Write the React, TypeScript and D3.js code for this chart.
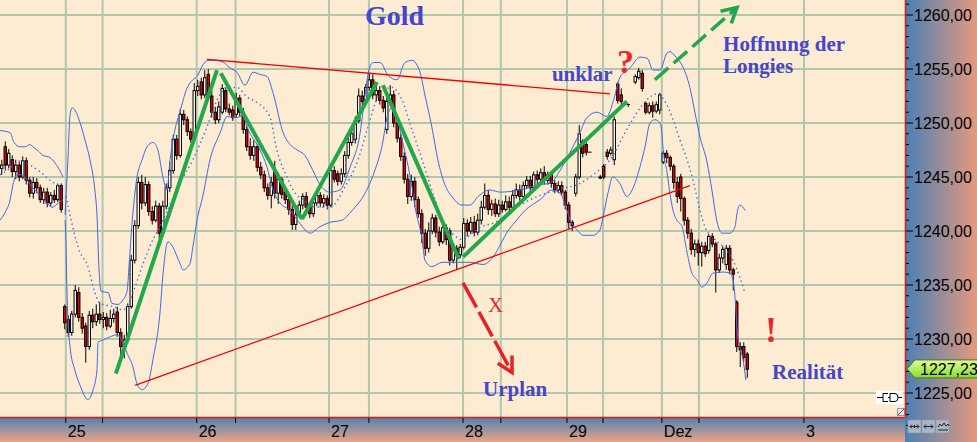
import React from 'react';
import * as d3 from 'd3';

type OHLC = [number, number, number, number] | null;
type Pt = [number, number];

// ---- candles (open, high, low, close), one per bar slot; null = no trading
const candles: OHLC[] = [
  [1245.8,1246.6,1245.2,1246.1],[1247.8,1248.3,1245.6,1246.1],[1246.1,1247.6,1245.8,1247.2],[1246.6,1247.0,1245.0,1245.5],
  [1245.5,1246.6,1244.8,1246.1],[1246.1,1246.4,1244.6,1245.0],[1245.0,1246.9,1244.8,1246.5],[1246.5,1246.8,1244.3,1244.7],
  [1244.7,1245.0,1243.1,1243.5],[1243.5,1245.0,1243.0,1244.5],[1244.5,1244.9,1243.5,1244.0],[1244.0,1244.3,1242.6,1242.9],
  [1242.9,1244.0,1242.5,1243.6],[1243.6,1244.0,1242.2,1242.6],[1242.6,1243.6,1242.3,1243.3],[1243.3,1243.8,1242.6,1242.9],
  [1242.9,1244.4,1242.7,1244.2],[1244.2,1244.4,1241.7,1242.0],
  [1233.0,1233.2,1230.9,1231.5],[1231.8,1232.2,1230.2,1230.6],[1230.6,1232.6,1230.3,1232.3],[1232.3,1235.0,1232.0,1234.5],
  [1234.3,1234.8,1231.6,1232.0],[1232.0,1232.4,1230.5,1231.0],[1231.2,1231.5,1227.8,1229.3],[1229.3,1232.6,1229.0,1232.2],
  [1232.2,1232.8,1231.0,1231.6],[1231.6,1233.2,1231.2,1232.3],[1232.3,1233.4,1231.4,1231.8],[1231.8,1232.5,1231.0,1232.0],
  [1232.0,1232.4,1230.8,1231.2],[1231.2,1232.7,1231.0,1231.9],[1231.9,1232.8,1231.5,1232.3],[1232.5,1233.0,1230.2,1230.6],
  [1230.6,1231.0,1228.5,1229.3],[1229.3,1230.4,1228.2,1229.9],[1229.9,1233.3,1229.6,1233.0],[1233.0,1237.8,1232.8,1237.3],
  [1237.3,1241.0,1237.0,1240.5],[1240.5,1245.0,1240.2,1244.5],[1244.5,1245.2,1242.0,1242.6],[1242.6,1245.0,1242.3,1244.3],
  [1244.3,1244.6,1241.4,1241.8],[1241.8,1242.3,1240.6,1241.0],[1241.0,1242.8,1240.8,1242.3],[1242.3,1242.6,1239.2,1239.8],
  [1239.8,1242.8,1239.5,1242.3],[1242.3,1244.4,1242.0,1244.0],[1244.0,1246.4,1243.6,1245.6],[1245.6,1248.9,1245.3,1248.5],
  [1248.5,1248.9,1246.6,1247.0],[1247.0,1251.3,1246.8,1250.8],[1250.8,1251.2,1249.8,1250.3],[1250.3,1250.6,1248.8,1249.2],
  [1249.2,1249.5,1248.2,1248.5],[1248.5,1253.7,1248.3,1253.0],[1253.0,1254.0,1252.5,1253.4],[1253.8,1254.2,1252.2,1252.6],
  [1252.6,1254.9,1252.3,1254.2],[1254.5,1255.0,1252.2,1252.5],[1252.5,1253.0,1250.5,1251.0],[1251.0,1251.5,1249.9,1250.3],
  [1250.3,1252.0,1250.0,1251.5],[1251.0,1253.6,1250.8,1253.2],[1253.0,1253.3,1251.0,1251.3],[1251.3,1251.8,1250.7,1251.0],
  [1251.2,1251.6,1250.2,1250.5],[1250.8,1252.8,1250.5,1252.3],[1252.3,1252.6,1250.6,1251.0],[1251.0,1251.4,1249.0,1249.4],
  [1249.4,1249.8,1247.4,1247.8],[1247.8,1248.6,1246.6,1247.0],[1247.0,1248.4,1246.5,1247.8],[1247.8,1248.0,1245.5,1245.9],
  [1245.9,1246.4,1244.8,1245.2],[1245.2,1245.6,1243.6,1244.0],[1244.0,1244.4,1242.9,1243.3],[1243.3,1245.0,1242.1,1244.5],
  [1245.6,1246.5,1243.0,1243.5],[1243.5,1245.4,1242.5,1244.8],[1244.8,1245.0,1243.0,1243.4],[1243.6,1244.0,1242.5,1242.9],
  [1242.9,1243.3,1241.5,1242.0],[1242.0,1242.4,1240.1,1240.6],[1240.6,1242.0,1240.1,1241.5],[1241.5,1242.8,1241.2,1242.4],
  [1242.4,1243.5,1242.0,1243.2],[1243.2,1243.6,1241.8,1242.2],[1242.2,1242.5,1241.2,1241.6],[1241.6,1243.0,1241.3,1242.6],
  [1242.6,1243.8,1242.3,1243.3],[1243.3,1243.6,1242.2,1242.6],[1242.6,1243.4,1242.2,1243.0],[1243.0,1243.3,1242.0,1242.4],
  [1242.4,1246.0,1242.2,1245.6],[1245.6,1246.0,1244.5,1244.8],[1245.3,1245.6,1244.2,1244.6],[1244.6,1245.8,1244.3,1245.3],
  [1245.3,1247.4,1245.0,1247.0],[1247.0,1248.7,1246.7,1248.2],[1248.2,1249.6,1247.9,1249.0],[1248.5,1250.6,1248.1,1250.2],
  [1250.2,1253.2,1250.0,1252.5],[1252.5,1253.0,1251.6,1252.0],[1252.0,1253.6,1251.8,1253.3],[1253.3,1254.6,1253.0,1254.0],
  [1254.0,1254.5,1252.2,1252.6],[1252.6,1253.5,1252.0,1253.0],[1253.0,1253.4,1251.7,1252.1],[1252.1,1252.5,1251.0,1251.4],
  [1249.4,1252.4,1249.0,1252.0],[1252.0,1253.5,1251.6,1252.6],[1252.6,1253.0,1249.6,1250.0],[1250.0,1250.4,1248.2,1248.6],
  [1248.6,1249.0,1246.5,1246.9],[1246.9,1247.3,1244.4,1244.8],[1244.8,1245.3,1242.5,1243.2],[1243.2,1245.2,1242.8,1244.6],
  [1244.6,1245.0,1242.2,1242.9],[1242.9,1243.2,1241.2,1241.6],[1241.6,1242.0,1238.9,1239.8],[1239.8,1240.2,1237.7,1238.4],
  [1238.4,1240.8,1238.0,1240.0],[1240.0,1241.6,1239.7,1241.2],[1241.2,1241.5,1239.4,1239.9],[1239.9,1240.4,1238.6,1239.0],
  [1239.0,1240.8,1238.8,1240.3],[1240.3,1240.6,1238.7,1239.2],[1240.0,1240.3,1236.8,1237.3],[1237.3,1238.8,1237.0,1238.4],
  [1238.4,1238.7,1236.4,1237.8],[1237.8,1238.8,1237.5,1238.5],[1238.5,1241.2,1238.3,1240.7],[1240.7,1241.1,1239.5,1240.0],
  [1240.0,1241.3,1239.7,1240.8],[1240.8,1241.4,1239.5,1239.9],[1239.9,1241.6,1239.6,1241.0],[1241.0,1242.8,1240.6,1242.2],
  [1242.2,1244.4,1242.0,1243.3],[1243.3,1243.8,1241.5,1242.0],[1242.0,1242.9,1241.4,1242.5],[1242.5,1243.0,1241.3,1241.6],
  [1241.6,1242.9,1241.3,1242.4],[1242.4,1242.8,1241.7,1242.0],[1242.0,1243.3,1241.8,1242.7],[1242.7,1243.2,1241.8,1242.2],
  [1242.2,1243.8,1241.9,1243.3],[1243.3,1244.4,1243.0,1243.8],[1243.8,1244.3,1242.8,1243.2],[1243.2,1244.6,1242.9,1244.2],
  [1244.2,1245.1,1243.9,1244.7],[1244.7,1245.1,1243.6,1244.0],[1244.0,1245.5,1243.8,1245.2],[1245.2,1245.6,1244.3,1244.8],
  [1244.8,1245.8,1244.5,1245.4],[1245.4,1246.0,1244.3,1244.7],[1244.7,1245.5,1244.3,1245.2],[1245.2,1245.5,1244.0,1244.4],
  [1244.4,1244.7,1243.5,1243.8],[1243.8,1244.6,1243.5,1244.2],[1244.2,1244.6,1243.3,1243.6],[1243.6,1243.8,1242.0,1242.4],
  [1242.4,1242.7,1240.2,1240.8],[1240.8,1241.0,1240.0,1240.5],[1243.5,1245.3,1243.2,1245.0],[1245.0,1249.8,1244.8,1249.0],
  [1248.3,1248.5,1246.8,1247.2],[1248.0,1248.2,1247.0,1247.3],[1247.3,1247.3,1247.3,1247.3],null,
  null,[1245.0,1245.2,1244.8,1244.9],[1246.0,1246.2,1244.8,1245.0],[1247.3,1247.6,1246.6,1246.9],
  [1247.2,1247.8,1247.0,1247.5],[1246.6,1250.6,1246.1,1250.3],[1253.6,1253.8,1251.8,1252.1],[1252.6,1253.2,1251.5,1252.0],
  [1251.8,1252.0,1251.6,1251.8],[1251.7,1251.8,1251.5,1251.7],null,[1253.8,1254.5,1253.6,1254.3],
  [1254.2,1255.1,1254.0,1254.8],[1254.6,1254.9,1252.9,1253.2],[1251.8,1252.0,1250.8,1251.0],[1251.0,1251.9,1250.8,1251.6],
  [1251.6,1252.0,1250.5,1251.1],[1251.1,1252.0,1250.9,1251.7],[1251.2,1252.8,1250.8,1252.6],[1246.4,1247.4,1246.2,1247.2],
  [1247.2,1247.5,1246.3,1246.8],[1246.8,1247.0,1245.6,1246.0],[1246.0,1246.2,1243.9,1244.5],[1244.5,1245.0,1242.6,1243.2],
  [1245.0,1245.3,1241.8,1243.0],[1243.0,1243.2,1240.5,1241.0],[1241.0,1241.3,1239.3,1239.8],[1239.8,1240.2,1237.8,1238.3],
  [1238.3,1239.2,1237.6,1238.8],[1238.8,1239.2,1236.8,1238.0],[1238.0,1239.0,1236.7,1238.6],[1238.6,1239.0,1237.6,1237.9],
  [1238.2,1239.7,1237.9,1239.5],[1239.5,1239.8,1238.5,1238.8],[1238.8,1239.0,1234.3,1236.4],[1236.4,1237.9,1236.1,1237.5],
  [1237.5,1238.6,1237.0,1238.3],[1236.9,1238.7,1236.4,1238.4],[1238.4,1238.7,1236.0,1236.4],[1236.4,1236.6,1234.5,1236.0],
  [1233.4,1233.6,1228.8,1229.3],[1229.3,1229.7,1227.4,1229.0],[1229.3,1229.7,1227.9,1228.3],[1228.6,1228.8,1226.4,1227.2],
];

// ---- Bollinger bands: [bar position, price]
const upperA: Pt[] = [[0,1249.3],[2.9,1249.1],[4.0,1248.2],[5.7,1247.8],[7.1,1247.8],[8.6,1248.0],[9.4,1247.8],[10.6,1247.5],[12.3,1247.0],[14.3,1246.8],[15.7,1246.3],[17.1,1245.6],[18.0,1245.0]];
const upperB: Pt[] = [[18.6,1241.5],[19.4,1246.6],[20.0,1250.7],[20.6,1251.4],[21.4,1251.2],[22.9,1250.0],[24.3,1248.4],[25.7,1246.6],[27.1,1243.8],[27.7,1241.5],[28.3,1236.4],[28.9,1234.4],[30.9,1234.3],[32.0,1233.3],[33.7,1233.2],[35.1,1233.6],[36.3,1234.4],[36.9,1236.9],[37.7,1240.6],[39.1,1244.9],[40.6,1246.6],[42.0,1247.8],[43.7,1248.2],[45.1,1247.5],[46.6,1244.9],[47.7,1243.8],[48.6,1246.6],[50.0,1249.4],[51.4,1251.0],[53.4,1253.2],[55.1,1254.0],[56.3,1254.3],[58.0,1255.4],[59.4,1255.8],[61.4,1255.8],[63.4,1255.7],[65.7,1255.1],[67.7,1254.7],[70.0,1253.5],[72.3,1254.7],[74.3,1254.5],[76.3,1254.3],[78.0,1252.8],[80.9,1249.1],[82.9,1248.0],[84.9,1247.5],[87.1,1247.0],[89.4,1245.6],[91.4,1244.3],[94.3,1243.6],[97.1,1243.8],[100.0,1245.9],[102.9,1249.1],[104.3,1252.6],[105.4,1254.9],[106.6,1255.6],[108.6,1255.6],[110.9,1254.4],[113.4,1254.0],[115.7,1255.6],[117.7,1255.8],[120.0,1254.7],[121.4,1252.6],[123.4,1249.6],[125.1,1246.6],[127.1,1244.3],[129.1,1243.2],[132.0,1242.4],[134.3,1242.4],[136.6,1243.2],[140.0,1243.8],[142.9,1243.6],[148.6,1243.8],[154.3,1244.3],[157.1,1244.4],[160.0,1245.6],[163.7,1247.8],[165.7,1249.1],[167.7,1250.5],[170.6,1251.0],[173.4,1250.6],[175.1,1251.9],[177.1,1254.2],[180.0,1255.1],[182.9,1256.1],[184.9,1256.0],[186.6,1254.9],[188.6,1254.9],[190.6,1256.5],[191.4,1256.6],[193.4,1256.0],[195.1,1255.2],[197.1,1253.3],[198.6,1250.9],[200.0,1248.7],[202.0,1246.4],[203.4,1243.8],[204.9,1240.8],[206.3,1239.8],[208.6,1239.8],[210.0,1240.4],[210.6,1241.7],[211.4,1242.4],[212.9,1241.9]];
const lowerA: Pt[] = [[0,1241.0],[1.4,1241.7],[2.9,1242.9],[3.7,1244.3],[4.9,1245.2],[6.3,1245.2],[7.7,1244.7],[9.4,1244.0],[11.4,1243.3],[13.4,1242.6],[14.9,1242.2],[16.3,1242.5],[18.0,1242.9]];
const lowerB: Pt[] = [[18.6,1241.0],[18.9,1238.2],[19.1,1234.8],[20.0,1229.3],[21.4,1227.1],[22.9,1225.7],[25.1,1224.4],[26.6,1225.3],[27.7,1227.1],[28.0,1229.7],[29.4,1229.9],[31.4,1230.2],[33.7,1230.4],[35.1,1229.6],[36.3,1228.7],[38.0,1227.4],[39.1,1225.9],[40.6,1225.3],[42.3,1225.9],[43.7,1228.1],[45.7,1232.4],[46.6,1236.1],[48.0,1239.0],[49.4,1238.5],[51.4,1237.0],[52.3,1236.4],[54.3,1237.0],[55.1,1238.5],[56.3,1241.0],[58.0,1243.3],[60.0,1246.6],[62.9,1249.1],[64.9,1250.6],[67.7,1250.5],[69.4,1250.7],[70.6,1249.6],[74.3,1247.5],[76.3,1245.9],[78.0,1243.8],[80.0,1242.6],[82.9,1241.9],[85.7,1240.7],[88.6,1239.8],[91.4,1240.4],[94.3,1240.8],[97.7,1241.0],[100.6,1241.9],[104.3,1243.5],[107.1,1245.6],[109.1,1247.8],[110.9,1250.9],[112.3,1251.5],[114.9,1248.4],[117.7,1244.1],[118.6,1242.2],[120.6,1239.2],[121.4,1237.3],[123.4,1236.7],[126.3,1237.1],[130.0,1237.1],[134.3,1237.1],[138.0,1236.9],[140.9,1237.6],[143.4,1239.0],[144.9,1239.9],[147.1,1240.8],[150.0,1241.9],[154.3,1242.9],[157.7,1243.8],[160.0,1243.5],[162.0,1241.9],[162.9,1241.0],[164.9,1240.1],[166.6,1239.6],[169.4,1239.6],[171.4,1240.1],[172.3,1241.3],[173.7,1243.5],[175.1,1245.0],[177.1,1244.4],[179.1,1243.2],[180.9,1244.0],[182.9,1246.0],[184.3,1247.8],[185.7,1250.0],[187.1,1250.3],[188.6,1250.0],[189.1,1249.1],[189.4,1247.8],[190.6,1245.4],[191.4,1243.5],[192.3,1241.9],[193.4,1241.0],[194.9,1240.4],[196.3,1238.0],[197.7,1236.1],[199.1,1235.5],[200.6,1234.8],[202.0,1235.2],[203.7,1236.1],[206.6,1236.2],[208.6,1236.1],[209.4,1235.5],[210.0,1233.9],[210.6,1230.8],[211.4,1229.3],[212.3,1228.1],[213.1,1226.2]];
const middleA: Pt[] = [[0,1245.2],[2.9,1245.8],[5.7,1246.5],[8.6,1246.1],[11.4,1245.5],[14.3,1244.7],[18.0,1244.0]];
const middleB: Pt[] = [[18.9,1243.2],[20.6,1240.6],[22.9,1238.0],[24.9,1236.9],[27.1,1234.3],[28.6,1233.3],[32.3,1233.0],[35.1,1232.7],[36.3,1233.0],[38.0,1234.3],[40.9,1237.0],[43.7,1239.2],[45.7,1240.4],[47.7,1241.8],[51.4,1244.4],[55.1,1246.6],[59.1,1249.6],[62.0,1252.1],[64.9,1253.3],[67.7,1253.3],[70.6,1252.4],[73.4,1251.9],[77.1,1250.6],[79.1,1247.5],[82.0,1245.0],[83.7,1243.8],[86.6,1242.9],[90.6,1242.2],[94.3,1242.2],[98.6,1244.1],[102.3,1246.6],[105.1,1249.6],[108.0,1252.4],[112.0,1253.3],[114.9,1252.1],[117.7,1249.4],[120.6,1246.6],[124.3,1242.9],[127.1,1240.4],[129.1,1239.8],[132.0,1239.2],[134.9,1239.8],[137.1,1240.3],[141.4,1240.8],[148.6,1242.4],[154.3,1243.3],[160.0,1243.9],[165.7,1244.4],[170.6,1245.5],[174.3,1246.6],[179.1,1249.4],[182.9,1251.4],[185.7,1252.4],[187.7,1252.7],[189.4,1252.3],[192.3,1250.3],[194.3,1248.4],[196.3,1246.6],[198.0,1244.7],[200.0,1241.9],[201.4,1240.4],[204.3,1239.2],[207.1,1238.4],[209.4,1237.3],[211.4,1235.7],[212.9,1234.2]];

// ---- hand-drawn annotations: [bar position, price]
const trendTop: Pt[] = [[59.1, 1255.9], [174.3, 1252.7]];
const trendBottom: Pt[] = [[38.6, 1225.7], [197.1, 1244.2]];
const greenLegs: Pt[][] = [
  [[33.1, 1226.8], [62.0, 1254.9]],
  [[63.1, 1254.6], [86.3, 1241.1]],
  [[86.3, 1241.1], [107.7, 1253.8]],
  [[109.4, 1253.5], [131.1, 1237.4]],
  [[132.3, 1237.6], [179.1, 1252.0]],
];
const hopeArrow: Pt[] = [[187.1, 1254.0], [210.6, 1260.7]];
const planArrow: Pt[] = [[132.3, 1235.2], [146.3, 1226.9]];

// ---- axis ticks
const gridPos = [18.8, 29.3, 56.2, 67.3, 94.0, 105.4, 132.3, 143.1, 162.0, 172.3, 189.1, 199.7, 229.7];
const gridLabels = ['25', '', '26', '', '27', '', '28', '', '29', '', 'Dez', '', '3'];
const priceTicks = [1225, 1230, 1235, 1240, 1245, 1250, 1255, 1260];
const minorTicks = [1222,1223,1224,1226,1227,1228,1229,1231,1232,1233,1234,1236,1237,1238,1239,1241,1242,1243,1244,1246,1247,1248,1249,1251,1252,1253,1254,1256,1257,1258,1259,1261];
const lastPrice = 1227.23;

const texts = [
  { t: 104.3, p: 1259.05, s: 'Gold', size: 28, color: '#4646c8' },
  { t: 157.7, p: 1253.9, s: 'unklar', size: 21, color: '#4646c8' },
  { t: 176.3, p: 1254.6, s: '?', size: 34, color: '#e82830' },
  { t: 206.6, p: 1256.7, s: 'Hoffnung der', size: 21, color: '#4646c8' },
  { t: 206.6, p: 1254.6, s: 'Longies', size: 21, color: '#4646c8' },
  { t: 139.4, p: 1232.5, s: 'X', size: 21, color: '#e82830', normal: true },
  { t: 138.0, p: 1224.7, s: 'Urplan', size: 21, color: '#4646c8' },
  { t: 218.6, p: 1229.7, s: '!', size: 36, color: '#e82830' },
  { t: 220.6, p: 1226.3, s: 'Realität', size: 21, color: '#4646c8' },
];

const PR = 905; // plot right
const PB = 417; // plot bottom

export default function App() {
  const x = d3.scaleLinear().domain([0, 905 / 3.5]).range([0, PR]);
  const y = d3.scaleLinear().domain([1225, 1260]).range([393, 15]);
  const fmt = d3.formatLocale({ decimal: ',', thousands: '.', grouping: [3], currency: ['', '€'] }).format('.2f');
  const line = d3.line<Pt>().x(d => x(d[0])).y(d => y(d[1]));
  const band = d3.line<Pt>().x(d => x(d[0])).y(d => y(d[1])).curve(d3.curveMonotoneX);

  const arrowHead = (pts: Pt[], len: number) => {
    const [a, b] = pts;
    const x1 = x(a[0]), y1 = y(a[1]), x2 = x(b[0]), y2 = y(b[1]);
    const ang = Math.atan2(y1 - y2, x1 - x2);
    const d = 0.5;
    const p1 = [x2 + len * Math.cos(ang + d), y2 + len * Math.sin(ang + d)];
    const p2 = [x2 + len * Math.cos(ang - d), y2 + len * Math.sin(ang - d)];
    return `M${p1[0]},${p1[1]}L${x2},${y2}L${p2[0]},${p2[1]}`;
  };

  const yl = y(lastPrice);

  return (
    <svg width={977} height={442} style={{ position: 'absolute', left: 0, top: 0 }}
      fontFamily="'Liberation Sans', Arial, sans-serif">
      <defs>
        <linearGradient id="rg" x1="0" x2="1" y1="0" y2="0">
          <stop offset="0" stopColor="#4a80b4" />
          <stop offset="1" stopColor="#e59a7e" />
        </linearGradient>
        <linearGradient id="bg" x1="0" x2="0" y1="0" y2="1">
          <stop offset="0" stopColor="#4f82b3" />
          <stop offset="1" stopColor="#eba284" />
        </linearGradient>
        <linearGradient id="tg" x1="0" x2="0" y1="0" y2="1">
          <stop offset="0" stopColor="#e2fc9c" />
          <stop offset="1" stopColor="#86dc2c" />
        </linearGradient>
        <clipPath id="pc"><rect x={0} y={0} width={PR} height={PB} /></clipPath>
      </defs>

      <rect x={0} y={0} width={PR} height={PB} fill="#fdecd1" />

      {/* grid */}
      <g stroke="#b0c6ae" strokeWidth={2}>
        {priceTicks.map(p => <line key={p} x1={0} x2={PR} y1={y(p)} y2={y(p)} />)}
        {gridPos.map(g => <line key={g} x1={x(g)} x2={x(g)} y1={0} y2={PB} />)}
      </g>

      <g clipPath="url(#pc)">
        {/* candles */}
        {candles.map((c, i) => {
          if (!c) return null;
          const [o, h, l, cl] = c;
          const cx = x(i + 0.5);
          const top = y(Math.max(o, cl));
          const bot = y(Math.min(o, cl));
          return (
            <g key={i}>
              <line x1={cx} x2={cx} y1={y(h)} y2={y(l)} stroke="#000" strokeWidth={1} />
              {o === cl
                ? <line x1={cx - 1.8} x2={cx + 1.8} y1={top} y2={top} stroke="#000" strokeWidth={1} />
                : <rect x={cx - 1.2} y={top} width={2.4} height={Math.max(bot - top, 0.6)}
                    fill={cl < o ? '#e00000' : '#ffffff'} stroke="#000" strokeWidth={1} />}
            </g>
          );
        })}

        {/* bollinger bands */}
        <g fill="none" stroke="#3f68e4" strokeWidth={1}>
          <path d={band(upperA) || ''} />
          <path d={band(upperB) || ''} />
          <path d={band(lowerA) || ''} />
          <path d={band(lowerB) || ''} />
          <path d={band(middleA) || ''} strokeDasharray="1.4,3.2" strokeWidth={1.4} />
          <path d={band(middleB) || ''} strokeDasharray="1.4,3.2" strokeWidth={1.4} />
        </g>

        {/* trend lines */}
        <path d={line(trendTop) || ''} stroke="#f00000" strokeWidth={1.3} fill="none" />
        <path d={line(trendBottom) || ''} stroke="#f00000" strokeWidth={1.3} fill="none" />

        {/* green zig-zag */}
        {greenLegs.map((leg, i) => (
          <path key={i} d={line(leg) || ''} stroke="#22a84c" strokeWidth={4} fill="none" strokeLinecap="butt" />
        ))}

        {/* arrows */}
        <path d={line(hopeArrow) || ''} stroke="#22a84c" strokeWidth={3.5} fill="none" strokeDasharray="18,7" />
        <path d={arrowHead(hopeArrow, 17)} stroke="#22a84c" strokeWidth={3.5} fill="none" />
        <path d={line(planArrow) || ''} stroke="#e8202a" strokeWidth={3.5} fill="none" strokeDasharray="28,5" />
        <path d={arrowHead(planArrow, 17)} stroke="#e8202a" strokeWidth={3.5} fill="none" />

        {/* small plot icons */}
        <rect x={876} y={391} width={27} height={13} fill="#ffffff" />
        <line x1={877} x2={902} y1={397.5} y2={397.5} stroke="#000" strokeWidth={1} />
        <path d="M888,393.5 h-5 v8 h5 M890,393.5 h5 q3,0 3,4 q0,4 -3,4 h-5 z" fill="#fff" stroke="#000" strokeWidth={1} />
        <rect x={897.5} y={408.5} width={7} height={7} fill="#e8e8e8" stroke="#999" strokeWidth={1} />
        <line x1={898} x2={904} y1={415} y2={409} stroke="#555" strokeWidth={1} />
      </g>

      {/* texts */}
      {texts.map((t, i) => (
        <text key={i} x={x(t.t)} y={y(t.p)} fill={t.color} fontSize={t.size}
          fontFamily="'Liberation Serif', 'Times New Roman', serif"
          fontWeight={t.normal ? 'normal' : 'bold'}>{t.s}</text>
      ))}

      {/* bottom axis */}
      <rect x={0} y={PB} width={PR} height={442 - PB} fill="url(#bg)" />
      <line x1={0} x2={PR} y1={PB + 0.5} y2={PB + 0.5} stroke="#e01818" strokeWidth={1.5} />
      {gridPos.map((g, i) => (
        <g key={g}>
          <line x1={x(g)} x2={x(g)} y1={PB + 1} y2={PB + 6} stroke="#000" strokeWidth={1} />
          {gridLabels[i] && (
            <text x={x(g) + 2} y={437} fontSize={16} fill="#000">{gridLabels[i]}</text>
          )}
        </g>
      ))}

      {/* right axis */}
      <rect x={PR} y={0} width={977 - PR} height={442} fill="url(#rg)" />
      <line x1={PR + 0.5} x2={PR + 0.5} y1={0} y2={PB} stroke="#e01818" strokeWidth={1.5} />
      {minorTicks.map(p => (
        <line key={p} x1={PR + 1} x2={PR + 4} y1={y(p)} y2={y(p)} stroke="#000" strokeWidth={1} />
      ))}
      {priceTicks.map(p => (
        <g key={p}>
          <line x1={PR + 1} x2={PR + 8} y1={y(p)} y2={y(p)} stroke="#000" strokeWidth={1} />
          <text x={914} y={y(p) + 6} fontSize={16} fill="#000">{fmt(p)}</text>
        </g>
      ))}

      {/* last price tag */}
      <path d={`M${PR + 2},${yl} L${PR + 10},${yl - 9} L979,${yl - 9} L979,${yl + 9} L${PR + 10},${yl + 9} Z`}
        fill="url(#tg)" stroke="#3d7a18" strokeWidth={1} />
      <text x={920} y={yl + 6} fontSize={16} fill="#000">{fmt(lastPrice)}</text>

      {/* corner buttons */}
      {[0, 1, 2].map(i => (
        <g key={i}>
          <rect x={908 + i * 14} y={420} width={13} height={13} fill="#a9b6c6" stroke="#8a96a8" strokeWidth={0.5} />
        </g>
      ))}
      <path d="M910,426.5 h9 M912,424.5 l-2,2 l2,2 M917,424.5 l2,2 l-2,2 M914.5,425 v3" stroke="#222" strokeWidth={1} fill="none" />
      <path d="M924,426.5 h9 M926,424.5 l-2,2 l2,2 M931,424.5 l2,2 l-2,2" stroke="#222" strokeWidth={1} fill="none" />
      <path d="M938,427 l2,-3 l2,2 l2,-3 l2,3 l2,-2 l1,2 M938,430 h10" stroke="#222" strokeWidth={1} fill="none" />
    </svg>
  );
}
